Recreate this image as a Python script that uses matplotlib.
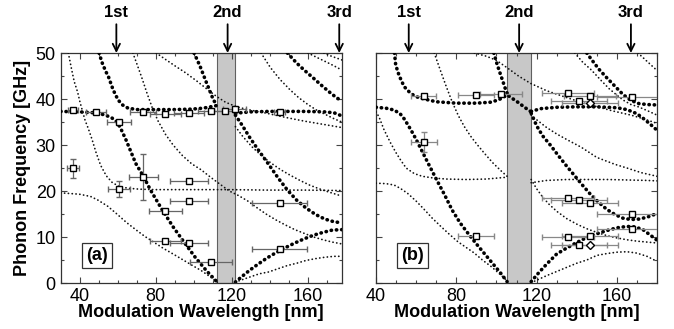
import matplotlib.pyplot as plt
from matplotlib.ticker import MultipleLocator

plt.rcParams['font.family'] = ['Liberation Sans', 'DejaVu Sans']

# ---------------- panel (a) ----------------
a_band = (112.5, 122.0)
a_orders = [59.3, 117.9, 176.7]
a_order_labels = ['1st', '2nd', '3rd']

# bold dotted branches
a_b1_x = [30, 39.9, 47.8, 52.7, 56.6, 59.6, 61.6, 64.5, 69.5, 73.4, 77.3, 83.3, 89.2, 95.1, 101, 106.9, 112.4]
a_b1_y = [37.3, 37.2, 37.0, 36.6, 36.0, 35.0, 33.6, 31.0, 26.0, 23.3, 20.2, 16.0, 12.2, 8.8, 5.5, 2.6, 0.2]
a_b2_x = [50.2, 51.7, 53.7, 55.0, 57.6, 60.2, 62.6, 65.5, 70.4, 79.3, 89.2, 99, 104.9, 108.9, 112.4]
a_b2_y = [50, 48, 46, 45, 42, 39.8, 38.7, 38.0, 37.7, 37.7, 37.7, 37.8, 38.0, 38.3, 38.6]
a_b3_x = [100.2, 101.9, 103.5, 105.2, 106.9, 108.7, 110.4, 112.4]
a_b3_y = [50, 48.5, 47, 45.2, 43.4, 41.6, 39.8, 38.6]
a_b4_x = [122, 125.7, 129.6, 133.6, 138.5, 143.4, 148.4, 153.3, 158.2, 163.2, 168.1, 173, 178]
a_b4_y = [0.2, 1.5, 2.8, 4.0, 5.4, 6.6, 7.7, 8.7, 9.6, 10.4, 11.0, 11.5, 11.6]
a_b5_x = [122, 125.7, 129.6, 134.6, 139.5, 144.4, 149.4, 154.3, 159.2, 164.2, 169.1, 174, 178]
a_b5_y = [36.5, 34.2, 31.6, 28.6, 25.8, 22.9, 20.2, 18.0, 16.3, 14.9, 13.9, 13.3, 13.1]
a_b6_x = [122, 129.6, 139.5, 149.4, 159.2, 169.1, 174, 177, 178]
a_b6_y = [36.9, 37.2, 37.3, 37.3, 37.3, 37.2, 37.0, 36.5, 36.2]
a_b7_x = [149.4, 154.3, 158.2, 163.2, 168.1, 173, 178]
a_b7_y = [50, 47.8, 46.3, 44.5, 42.7, 41.0, 39.5]

# thin dotted branches
a_t1_x = [34, 35.7, 37.1, 38.9, 40.1, 42.8, 44.5, 46.5, 48.5, 51, 54, 57, 60.6, 65.5, 71.4, 79.3, 99, 118.8, 138.5, 158.2, 178]
a_t1_y = [50, 46.5, 43.8, 41.5, 39.4, 35.4, 33.6, 31.2, 28.5, 25.6, 23.3, 21.9, 21.0, 20.6, 20.4, 20.3, 20.3, 20.3, 20.2, 20.2, 20.1]
a_t2_x = [30, 39.9, 45.8, 49.7, 54.7, 59.6, 64.5, 69.5, 74.4, 79.3, 84.2, 89.2, 94.1, 99, 104, 108.9, 112.4]
a_t2_y = [19.6, 19.3, 18.8, 18.0, 16.7, 15.0, 13.2, 11.6, 10.1, 8.8, 7.5, 6.3, 5.1, 3.9, 2.7, 1.3, 0.2]
a_t3_x = [68, 70.4, 72.9, 75.4, 78.3, 81.3, 85.2, 89.2, 94.1, 99, 104, 108.9, 113.8, 118.8, 123.7, 128.6,
          133.6, 138.5, 143.4, 148.4, 153.3, 158.2, 163.2, 168.1, 173, 178]
a_t3_y = [50, 47.3, 44.4, 41.3, 38.0, 35.2, 32.3, 30.0, 27.7, 25.9, 24.6, 23.0, 21.5, 20.0, 19.0, 17.8,
          16.3, 14.9, 13.7, 12.6, 11.6, 10.8, 10.0, 9.4, 8.9, 8.5]
a_t4_x = [122, 129.6, 134.6, 139.5, 144.4, 149.4, 154.3, 159.2, 164.2, 169.1, 174, 178]
a_t4_y = [0.2, 1.3, 2.0, 2.4, 3.1, 3.8, 4.3, 4.9, 5.3, 5.6, 5.8, 5.8]
a_t5_x = [122, 126, 131, 136, 141, 146, 151, 156, 161, 166, 171, 178]
a_t5_y = [34.0, 31.8, 29.5, 27.6, 26.0, 24.6, 23.4, 22.3, 21.3, 20.5, 19.8, 18.9]
a_t6_x = [80.3, 85.2, 90.2, 96.1, 102, 106.9, 111.9, 116.8, 122.7, 128.6, 138.5, 148.4, 158.2, 168.1, 178]
a_t6_y = [50, 48.6, 47.2, 45.6, 43.8, 42.2, 40.6, 39.3, 38.3, 37.7, 36.9, 36.0, 35.2, 34.5, 33.8]
a_t7_x = [135.5, 140.5, 145.4, 150.3, 155.3, 160.2, 165.1, 170.1, 174, 178]
a_t7_y = [50, 46.8, 44.3, 42.2, 40.3, 38.8, 37.5, 36.5, 35.7, 35.0]
a_t8_x = [160.2, 165.1, 170.1, 174, 178]
a_t8_y = [50, 49.0, 48.0, 47.2, 46.3]
a_t9_x = [168.6, 172.6, 178]
a_t9_y = [50, 49.3, 48.5]

# measured points
a_sq_x = [36.5, 48.7, 60.7, 73.4, 85.1, 97.4, 109.3, 116.7, 121.6, 145.3,
          36.5, 73.4, 60.7, 97.4, 97.4, 85.1, 85.1, 97.4, 109.3, 145.3, 145.3]
a_sq_y = [37.6, 37.1, 35.1, 37.2, 36.7, 36.9, 37.4, 37.4, 37.8, 37.2,
          24.9, 23.0, 20.4, 22.2, 17.8, 15.6, 9.1, 8.8, 4.5, 17.3, 7.4]
a_xerr = [2.5, 5.3, 6.2, 7, 8, 8, 7, 6, 6, 3,
          3.1, 7.6, 6, 10, 10, 8.6, 8.2, 10, 11, 14.4, 14.5]
a_yerr = [0, 0, 0, 0, 0, 0, 0, 0, 0, 0,
          2.0, 5.0, 1.8, 0, 0, 0, 0, 0, 0, 0, 0]

# ---------------- panel (b) ----------------
b_band = (105.3, 117.3)
b_orders = [56.3, 111.3, 167.0]

b_b1_x = [40, 45, 49, 52, 54, 56, 58, 60, 63, 66, 70, 74, 78, 82, 86, 90, 94, 98, 102, 105.3]
b_b1_y = [38.2, 38.0, 37.6, 36.8, 35.7, 34.3, 32.8, 31.2, 28.6, 26.0, 22.6, 19.3, 15.8, 13.0, 10.7, 8.5, 6.4, 4.3, 2.2, 0.3]
b_b2_x = [49.2, 49.8, 51.5, 54, 57.3, 60, 64, 70, 80, 90, 97, 101, 103.5, 105.3, 108, 111, 114, 117.3]
b_b2_y = [50, 47.4, 45.1, 42.7, 41.2, 40.5, 40.0, 39.4, 39.1, 39.1, 39.3, 39.8, 40.4, 40.9, 40.1, 39.2, 38.2, 37.2]
b_b3_x = [98.7, 100, 101.5, 103, 104.3, 105.3]
b_b3_y = [50, 48.0, 46.0, 44.1, 42.4, 41.3]
b_b4_x = [117.3, 120, 123, 127, 131, 135, 139, 143, 147, 151, 155, 159, 163, 167, 171, 175, 180]
b_b4_y = [36.9, 34.2, 32.0, 29.9, 27.6, 25.4, 23.3, 21.2, 19.2, 17.5, 16.0, 14.9, 14.1, 13.8, 13.9, 14.3, 15.1]
b_b5_x = [117.3, 122, 130, 140, 150, 160, 165, 170, 174, 178, 180]
b_b5_y = [37.3, 37.9, 38.2, 38.3, 38.3, 38.1, 37.7, 36.8, 35.5, 34.0, 33.2]
b_b6_x = [145, 147, 151, 155, 159, 163, 167, 171, 175, 180]
b_b6_y = [50, 48.8, 46.5, 44.6, 42.8, 41.0, 39.7, 39.0, 38.8, 38.7]
b_b7_x = [117.3, 121, 125, 130, 135, 140, 145, 150, 155, 160, 165, 169, 173, 177, 180]
b_b7_y = [0.3, 2.2, 4.1, 6.3, 7.6, 8.8, 9.9, 10.7, 11.4, 12.0, 12.3, 12.2, 11.6, 10.3, 9.3]

b_t1_x = [40, 41.5, 44, 47.3, 50, 52.3, 55, 59, 63, 69, 75, 85, 95, 105.3]
b_t1_y = [37.2, 36.1, 33.3, 30.4, 28.3, 26.7, 25.0, 23.8, 23.2, 22.8, 22.6, 22.5, 22.6, 23.0]
b_t2_x = [69, 72, 75, 78, 81, 84, 87, 90, 94, 98, 102, 105.3]
b_t2_y = [50, 46.3, 42.7, 39.3, 36.4, 34.0, 32.0, 30.3, 28.2, 26.2, 24.5, 23.2]
b_t3_x = [40, 45, 49, 52, 55.7, 60, 64, 68, 72.3, 76, 80.7, 85, 89, 93, 97.3, 101, 105.3]
b_t3_y = [21.7, 21.6, 21.3, 20.6, 19.5, 17.8, 16.0, 14.1, 12.3, 10.8, 9.0, 7.7, 6.5, 5.0, 3.6, 2.2, 0.5]
b_t4_x = [89, 95, 100, 105.3, 111, 117, 125, 133.7, 142, 150.3, 158, 167, 174, 180]
b_t4_y = [50, 49.3, 48.4, 46.8, 45.0, 43.4, 41.8, 40.5, 39.3, 38.3, 37.4, 36.5, 35.6, 34.7]
b_t5_x = [139, 143, 147.3, 152, 156, 159, 163, 167, 170.7, 175, 180]
b_t5_y = [50, 48.0, 46.3, 44.1, 42.3, 41.2, 39.8, 38.8, 38.3, 37.5, 36.5]
b_t6_x = [170.5, 174, 177, 180]
b_t6_y = [50, 48.6, 47.4, 46.2]
b_t7_x = [117.3, 120, 125, 130, 135, 142.3, 150, 159, 165, 172, 180]
b_t7_y = [36.5, 35.5, 33.8, 32.4, 31.2, 29.5, 27.3, 25.8, 25.0, 24.0, 23.2]
b_t8_x = [117.3, 125, 135, 145, 155, 165, 175, 180]
b_t8_y = [21.8, 22.3, 22.5, 22.5, 22.5, 22.4, 22.3, 22.2]
b_t9_x = [117.3, 120, 123, 126, 130, 135, 140, 145, 150, 155, 160, 165, 170, 175, 180]
b_t9_y = [22.5, 20.5, 18.7, 17.2, 15.6, 14.0, 12.8, 11.8, 11.0, 10.3, 9.8, 9.4, 9.1, 8.9, 8.7]
b_t10_x = [119, 125, 130, 135, 140, 145, 150, 155, 160, 165, 170, 175, 180]
b_t10_y = [0.4, 1.6, 2.5, 3.4, 4.3, 5.0, 6.0, 6.4, 6.7, 6.8, 6.5, 5.8, 4.7]

b_sq_x = [63.7, 89.8, 102.3, 63.7, 89.8, 135.7, 146.5, 141.2, 167.3,
          135.7, 141.2, 146.5, 167.3, 167.3, 135.7, 146.5, 141.2]
b_sq_y = [40.7, 40.9, 41.1, 30.7, 10.3, 41.4, 40.7, 39.6, 40.5,
          18.4, 18.1, 17.3, 15.1, 11.7, 9.9, 10.2, 8.3]
b_xerr = [6.4, 9, 10.5, 6.5, 9, 13, 13, 14, 17,
          13, 14, 14, 17, 17, 13, 14, 14]
b_yerr = [0, 0, 0, 2.2, 0, 0, 0, 0, 0,
          0, 0, 0, 0, 0, 0, 0, 0]
b_dia_x = [146.5, 146.5]
b_dia_y = [39.2, 8.3]
b_dia_xerr = [14, 14]


def dots(ax, x, y, bold=False):
    if bold:
        ax.plot(x, y, color='black', lw=2.6, ls=(0, (0.1, 1.35)),
                dash_capstyle='round', zorder=3)
    else:
        ax.plot(x, y, color='#111111', lw=1.25, ls=(0, (0.1, 2.1)),
                dash_capstyle='round', zorder=3)


def style_axes(ax, xlim, band, orders, tag):
    ax.set_xlim(*xlim)
    ax.set_ylim(0, 50)
    ax.axvspan(band[0], band[1], facecolor='#c8c8c8', edgecolor='#606060',
               lw=0.8, zorder=1)
    ax.xaxis.set_major_locator(MultipleLocator(40))
    ax.xaxis.set_minor_locator(MultipleLocator(10))
    ax.yaxis.set_major_locator(MultipleLocator(10))
    ax.yaxis.set_minor_locator(MultipleLocator(5))
    ax.tick_params(which='both', direction='in', top=True, right=True,
                   labelsize=13, width=0.8, color='#444444')
    ax.tick_params(which='major', length=4)
    ax.tick_params(which='minor', length=2.5)
    for s in ax.spines.values():
        s.set_linewidth(0.9)
        s.set_color('#333333')
    trans = ax.get_xaxis_transform()
    for xo, lab in zip(orders, a_order_labels):
        ax.annotate('', xy=(xo, 1.0), xytext=(xo, 1.125), xycoords=trans,
                    textcoords=trans, annotation_clip=False,
                    arrowprops=dict(arrowstyle='->', lw=1.3, color='black',
                                    shrinkA=0, shrinkB=0,
                                    mutation_scale=13))
        ax.text(xo, 1.178, lab, transform=trans, ha='center', va='center',
                fontsize=12, fontweight='bold')
    ax.set_xlabel('Modulation Wavelength [nm]', fontsize=13, fontweight='bold')
    ax.xaxis.set_label_coords(0.5, -0.09)
    ax.text(0.13, 0.12, tag, transform=ax.transAxes, ha='center', va='center',
            fontsize=13, fontweight='bold', zorder=6,
            bbox=dict(boxstyle='square,pad=0.22', fc='white', ec='#333333', lw=0.9))


fig = plt.figure(figsize=(6.74, 3.29), dpi=100)
ax_a = fig.add_axes([0.0901, 0.1398, 0.4169, 0.6991])
ax_b = fig.add_axes([0.5579, 0.1398, 0.4169, 0.6991])

style_axes(ax_a, (30, 178), a_band, a_orders, '(a)')
style_axes(ax_b, (40, 180), b_band, b_orders, '(b)')
ax_b.tick_params(labelleft=False)
ax_a.set_ylabel('Phonon Frequency [GHz]', fontsize=13, fontweight='bold')
ax_a.yaxis.set_label_coords(-0.105, 0.5)

for x, y in [(a_b1_x, a_b1_y), (a_b2_x, a_b2_y), (a_b3_x, a_b3_y), (a_b4_x, a_b4_y),
             (a_b5_x, a_b5_y), (a_b6_x, a_b6_y), (a_b7_x, a_b7_y)]:
    dots(ax_a, x, y, bold=True)
for x, y in [(a_t1_x, a_t1_y), (a_t2_x, a_t2_y), (a_t3_x, a_t3_y), (a_t4_x, a_t4_y),
             (a_t5_x, a_t5_y), (a_t6_x, a_t6_y), (a_t7_x, a_t7_y), (a_t8_x, a_t8_y),
             (a_t9_x, a_t9_y)]:
    dots(ax_a, x, y)

for x, y in [(b_b1_x, b_b1_y), (b_b2_x, b_b2_y), (b_b3_x, b_b3_y), (b_b4_x, b_b4_y),
             (b_b5_x, b_b5_y), (b_b6_x, b_b6_y), (b_b7_x, b_b7_y)]:
    dots(ax_b, x, y, bold=True)
for x, y in [(b_t1_x, b_t1_y), (b_t2_x, b_t2_y), (b_t3_x, b_t3_y), (b_t4_x, b_t4_y),
             (b_t5_x, b_t5_y), (b_t6_x, b_t6_y), (b_t7_x, b_t7_y), (b_t8_x, b_t8_y),
             (b_t9_x, b_t9_y), (b_t10_x, b_t10_y)]:
    dots(ax_b, x, y)

ax_a.errorbar(a_sq_x, a_sq_y, xerr=a_xerr, yerr=a_yerr, fmt='s', ms=5, mfc='white',
              mec='black', mew=1.0, ecolor='#666666', elinewidth=0.9, capsize=2,
              capthick=0.9, zorder=5)
ax_b.errorbar(b_sq_x, b_sq_y, xerr=b_xerr, yerr=b_yerr, fmt='s', ms=5, mfc='white',
              mec='black', mew=1.0, ecolor='#888888', elinewidth=0.9, capsize=2,
              capthick=0.9, zorder=5)
ax_b.errorbar(b_dia_x, b_dia_y, xerr=b_dia_xerr, fmt='D', ms=4.5, mfc='white',
              mec='black', mew=1.0, ecolor='#888888', elinewidth=0.9, capsize=2,
              capthick=0.9, zorder=5)

fig.savefig('out.png', dpi=100)
